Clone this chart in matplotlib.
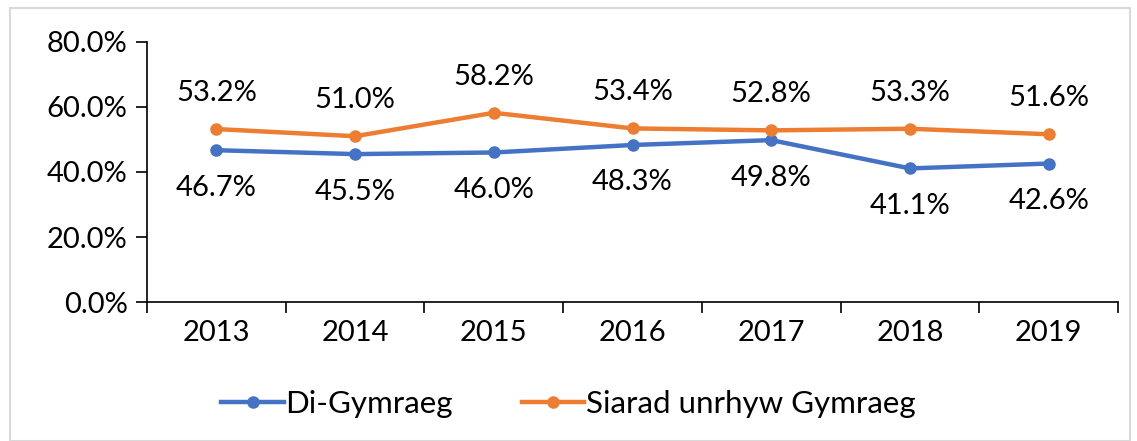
import matplotlib.pyplot as plt
from matplotlib.patches import Rectangle
from matplotlib.ticker import FuncFormatter

plt.rcParams['font.family'] = ['Lato', 'DejaVu Sans']

years = ['2013', '2014', '2015', '2016', '2017', '2018', '2019']
di_gymraeg = [46.7, 45.5, 46.0, 48.3, 49.8, 41.1, 42.6]
siarad = [53.2, 51.0, 58.2, 53.4, 52.8, 53.3, 51.6]

blue = '#4472C4'
orange = '#ED7D31'
fs = 21

fig = plt.figure(figsize=(11.37, 4.41), dpi=100)
ax = fig.add_axes([0.1293, 0.315, 0.854, 0.59])

x = list(range(len(years)))
ax.plot(x, di_gymraeg, color=blue, lw=3.2, marker='o', ms=8, label='Di-Gymraeg')
ax.plot(x, siarad, color=orange, lw=3.2, marker='o', ms=8, label='Siarad unrhyw Gymraeg')

for i in x:
    ax.annotate(f'{siarad[i]:.1f}%', (i, siarad[i]), xytext=(0, 26), textcoords='offset points',
                ha='center', va='center', fontsize=fs)
    ax.annotate(f'{di_gymraeg[i]:.1f}%', (i, di_gymraeg[i]), xytext=(0, -27), textcoords='offset points',
                ha='center', va='center', fontsize=fs)

ax.set_xlim(-0.5, len(years) - 0.5)
ax.set_ylim(0, 80)
ax.set_yticks([0, 20, 40, 60, 80])
ax.yaxis.set_major_formatter(FuncFormatter(lambda v, p: f'{v:.1f}%'))
ax.set_xticks(x)
ax.set_xticklabels(years)
ax.set_xticks([i - 0.5 for i in range(len(years) + 1)], minor=True)
ax.tick_params(axis='x', which='major', length=0, pad=13, labelsize=fs)
ax.tick_params(axis='x', which='minor', length=8, width=1.2, direction='out')
ax.tick_params(axis='y', length=8, width=1.2, labelsize=fs, pad=6)

for s in ['top', 'right']:
    ax.spines[s].set_visible(False)
for s in ['left', 'bottom']:
    ax.spines[s].set_linewidth(1.2)

fig.legend(loc='center', bbox_to_anchor=(0.5, 0.085), ncol=2, frameon=False, fontsize=22.5,
           handlelength=2.0, handletextpad=0.05, columnspacing=2.2)

fig.patches.append(Rectangle((0.009, 0.0), 0.985, 0.982, transform=fig.transFigure,
                             fill=False, edgecolor='#d9d9d9', lw=1.5))

fig.savefig('out.png', dpi=100)
